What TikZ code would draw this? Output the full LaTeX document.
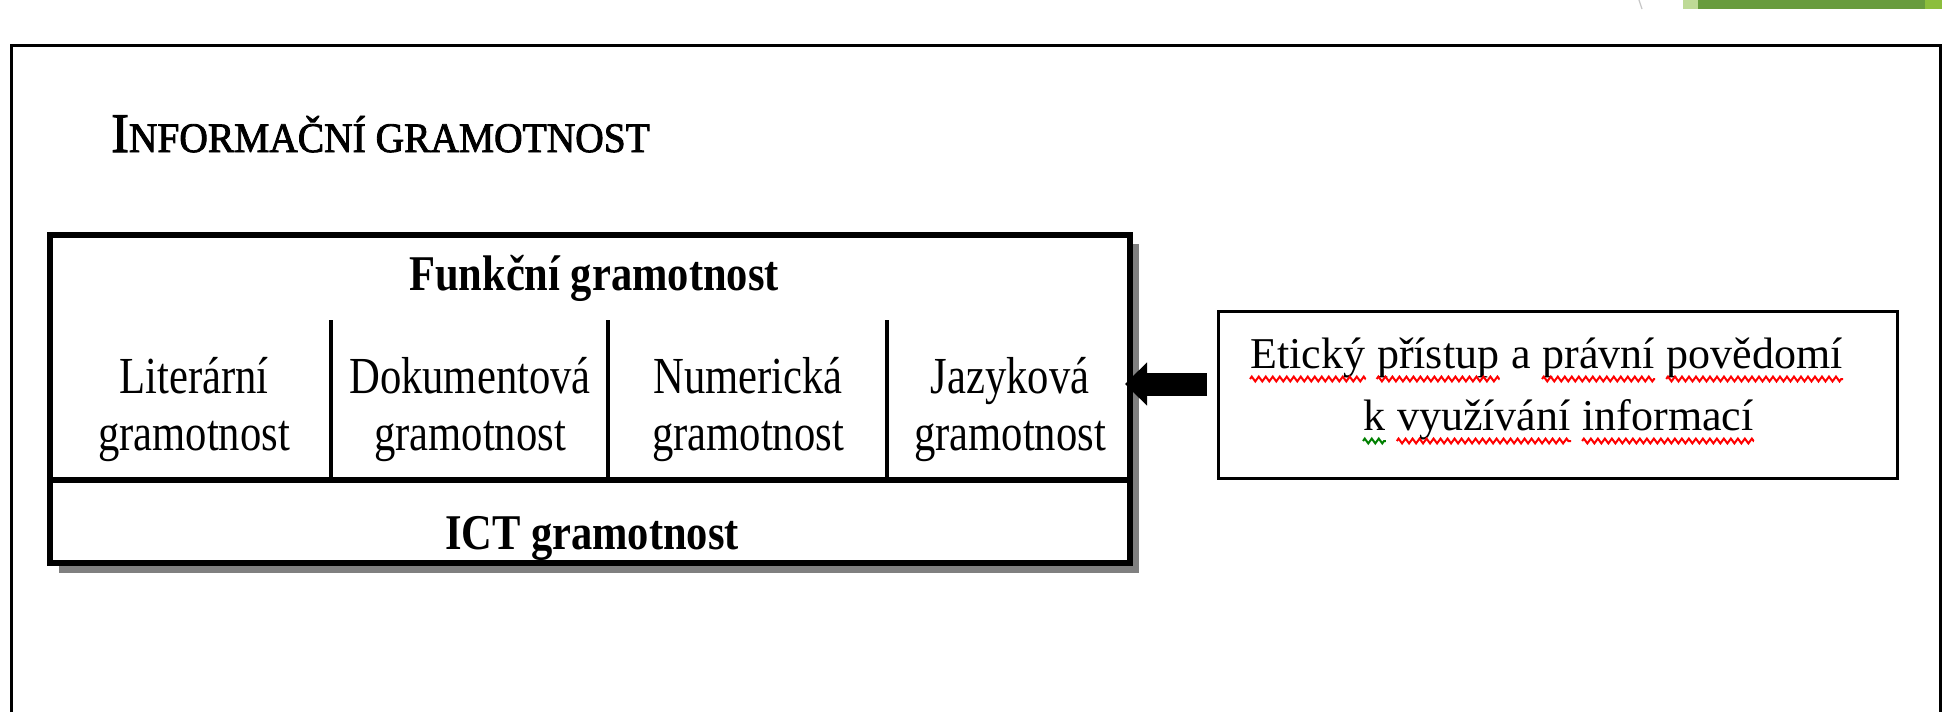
\documentclass[tikz,border=0pt]{standalone}
\usepackage{fontspec}
\setmainfont{Liberation Serif}
\newfontfamily\condf[FakeStretch=0.82]{Liberation Serif}
\newfontfamily\condb[FakeStretch=0.85]{Liberation Serif}
\newfontfamily\titlef[FakeStretch=0.94,FakeBold=2]{Liberation Serif}
\usetikzlibrary{arrows.meta,decorations.pathmorphing}
\pgfdeclarelayer{bg}
\pgfdeclarelayer{paper}
\pgfsetlayers{paper,bg,main}
\definecolor{shadowgray}{RGB}{128,128,128}
\definecolor{barGreen}{RGB}{104,156,62}
\definecolor{lightGreen}{RGB}{190,218,150}
\definecolor{brightGreen}{RGB}{140,190,60}
\definecolor{wavyGreen}{RGB}{0,128,0}
\begin{document}
\begin{tikzpicture}[x=0.5pt,y=-0.5pt,
  cell/.style={font=\condf\fontsize{26}{28}\selectfont, inner sep=0, anchor=base},
  headtext/.style={font=\condb\bfseries\fontsize{25}{27}\selectfont, inner sep=0, anchor=base},
  word/.style={font=\fontsize{22}{24}\selectfont, inner sep=0, anchor=base west},
  wavyred/.style={draw=red, line width=1pt, decorate, decoration={zigzag, amplitude=1.2pt, segment length=3.5pt}},
  wavygreen/.style={wavyred, draw=wavyGreen},
  boxmain/.style={draw, line width=3pt, fill=white, minimum width=540pt, minimum height=164pt, outer sep=0, inner sep=0},
  boxright/.style={draw, line width=1.5pt, fill=white, minimum width=339.5pt, minimum height=83.5pt, outer sep=0, inner sep=0},
  bigarrow/.style={line width=11.5pt, -{Triangle[length=11pt,width=21pt]}, shorten <=5.5pt, shorten >=-2.5pt},
  divider/.style={line width=2pt}
]
\useasboundingbox (0,0) rectangle (1942,712);
\begin{pgfonlayer}{paper}
  \fill[white] (0,0) rectangle (1942,712);
\end{pgfonlayer}

% top decoration
\fill[lightGreen] (1683,0) rectangle (1698,9);
\fill[barGreen] (1698,0) rectangle (1925,9);
\fill[brightGreen] (1925,0) rectangle (1942,9);
\draw[gray!45, line width=0.6pt] (1639,0) -- (1642,9);

% outer frame
\draw[line width=1.75pt] (11.5,712) -- (11.5,45.5) -- (1941,45.5) -- (1941,712);

% title
\node[anchor=base west, inner sep=0] (title) at (111,152)
  {\titlef\fontsize{28}{30}\selectfont I\fontsize{21}{23}\selectfont NFORMAČNÍ GRAMOTNOST};

% main box
\node[boxmain] (main) at (590,399) {};
\begin{pgfonlayer}{bg}
  \fill[shadowgray] ([shift={(9,9)}]main.north west) rectangle ([shift={(9,10)}]main.south east);
\end{pgfonlayer}
\draw[line width=3pt] (main.west |- 0,480) -- (main.east |- 0,480);
\draw[divider] (331,320) -- (331,480);
\draw[divider] (608,320) -- (608,480);
\draw[divider] (887,320) -- (887,480);

\node[headtext] (funk) at (594,290) {Funkční gramotnost};
\node[headtext] (ict) at (592,549) {ICT gramotnost};

\node[cell] (lit1) at (194,393) {Literární};
\node[cell] (lit2) at (194,450) {gramotnost};
\node[cell] (dok1) at (470,393) {Dokumentová};
\node[cell] (dok2) at (470,450) {gramotnost};
\node[cell] (num1) at (748,393) {Numerická};
\node[cell] (num2) at (748,450) {gramotnost};
\node[cell] (jaz1) at (1010,393) {Jazyková};
\node[cell] (jaz2) at (1010,450) {gramotnost};

% right box
\node[boxright] (rbox) at (1557.5,394.5) {};
\node[word] (e1) at (1250,368) {Etický};
\node[word] (e2) at ([xshift=5.5pt]e1.base east) {přístup};
\node[word] (e3) at ([xshift=5.5pt]e2.base east) {a};
\node[word] (e4) at ([xshift=5.5pt]e3.base east) {právní};
\node[word] (e5) at ([xshift=5.5pt]e4.base east) {povědomí};
\node[word] (k1) at (1363,430) {k};
\node[word] (k2) at ([xshift=5.5pt]k1.base east) {využívání};
\node[word] (k3) at ([xshift=5.5pt]k2.base east) {informací};
\foreach \w in {e1,e2,e4,e5,k2,k3}
  \draw[wavyred] ([yshift=-5.5pt]\w.base west) -- ([yshift=-5.5pt]\w.base east);
\draw[wavygreen] ([yshift=-5.5pt]k1.base west) -- ([yshift=-5.5pt]k1.base east);

% arrow
\coordinate (aS) at (rbox.west |- 0,384);
\coordinate (aE) at (main.east |- 0,384);
\draw[bigarrow] (aS) -- (aE);
\end{tikzpicture}
\end{document}
